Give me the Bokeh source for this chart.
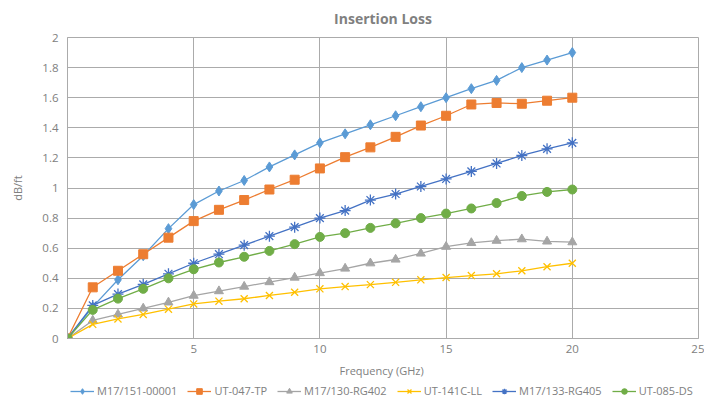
from bokeh.plotting import figure
from bokeh.models import Legend, FixedTicker, Range1d, Title
from bokeh.layouts import column
from bokeh.embed import file_html
from bokeh.resources import INLINE

freq = list(range(0, 21))

m17_151 = [0, 0.21, 0.39, 0.55, 0.73, 0.89, 0.98, 1.05, 1.14, 1.22, 1.30, 1.36, 1.42, 1.48, 1.54, 1.60, 1.66, 1.715, 1.80, 1.85, 1.90]
ut_047 = [0, 0.34, 0.45, 0.56, 0.67, 0.78, 0.855, 0.92, 0.99, 1.055, 1.13, 1.205, 1.27, 1.34, 1.415, 1.48, 1.555, 1.565, 1.56, 1.58, 1.60]
m17_130 = [0, 0.12, 0.16, 0.20, 0.24, 0.285, 0.315, 0.345, 0.375, 0.405, 0.435, 0.465, 0.50, 0.525, 0.565, 0.61, 0.635, 0.65, 0.66, 0.645, 0.64]
ut_141 = [0, 0.094, 0.13, 0.16, 0.195, 0.23, 0.248, 0.264, 0.286, 0.307, 0.33, 0.345, 0.358, 0.373, 0.39, 0.405, 0.418, 0.43, 0.45, 0.477, 0.50]
m17_133 = [0, 0.22, 0.295, 0.36, 0.43, 0.50, 0.56, 0.62, 0.68, 0.74, 0.80, 0.85, 0.92, 0.96, 1.01, 1.06, 1.11, 1.163, 1.216, 1.26, 1.30]
ut_085 = [0, 0.19, 0.265, 0.33, 0.40, 0.46, 0.505, 0.543, 0.582, 0.627, 0.675, 0.70, 0.735, 0.765, 0.80, 0.83, 0.864, 0.90, 0.947, 0.974, 0.99]

series_names = ["M17/151-00001", "UT-047-TP", "M17/130-RG402", "UT-141C-LL", "M17/133-RG405", "UT-085-DS"]
series_values = [m17_151, ut_047, m17_130, ut_141, m17_133, ut_085]
colors = ["#5B9BD5", "#ED7D31", "#A5A5A5", "#FFC000", "#4472C4", "#70AD47"]
markers = ["diamond", "square", "triangle", "x", "asterisk", "circle"]
sizes = [10, 9, 9, 10, 11, 9]

x_ticks = [0, 5, 10, 15, 20, 25]
x_tick_labels = ["", "5", "10", "15", "20", "25"]
y_ticks = [0, 0.2, 0.4, 0.6, 0.8, 1.0, 1.2, 1.4, 1.6, 1.8, 2.0]
y_tick_labels = ["0", "0.2", "0.4", "0.6", "0.8", "1", "1.2", "1.4", "1.6", "1.8", "2"]

FONT = "Open Sans"
TXT = "#808080"
GRID = "#ABABAB"

p = figure(width=704, height=380, output_backend="svg", toolbar_location=None,
           x_range=Range1d(0, 25), y_range=Range1d(0, 2),
           min_border_left=67, min_border_right=6, min_border_top=35, min_border_bottom=42)

p.title = Title(text="Insertion Loss", align="center", vertical_align="top", text_font=FONT,
                text_font_size="14px", text_font_style="bold", text_color=TXT, standoff=16)

for ax in (p.xaxis[0], p.yaxis[0]):
    ax.major_tick_in = 0
    ax.major_tick_out = 0
    ax.minor_tick_in = 0
    ax.minor_tick_out = 0
    ax.axis_line_color = GRID
    ax.major_label_text_font = FONT
    ax.major_label_text_font_size = "11.5px"
    ax.major_label_text_color = TXT
    ax.axis_label_text_font = FONT
    ax.axis_label_text_font_size = "11px"
    ax.axis_label_text_font_style = "normal"
    ax.axis_label_text_color = TXT

p.xaxis[0].ticker = FixedTicker(ticks=x_ticks)
p.xaxis[0].major_label_overrides = {t: l for t, l in zip(x_ticks, x_tick_labels)}
p.yaxis[0].ticker = FixedTicker(ticks=y_ticks)
p.yaxis[0].major_label_overrides = {t: l for t, l in zip(y_ticks, y_tick_labels)}
p.xaxis[0].axis_label = "Frequency  (GHz)"
p.yaxis[0].axis_label = "dB/ft"
p.xaxis[0].major_label_standoff = 6
p.xaxis[0].axis_label_standoff = 7
p.yaxis[0].major_label_standoff = 9
p.yaxis[0].axis_label_standoff = 14

p.xgrid.grid_line_color = GRID
p.ygrid.grid_line_color = GRID
p.outline_line_color = GRID
p.background_fill_color = "white"
p.border_fill_color = "white"

# strip below the chart that holds the legend (its data range is kept out of view)
lg = figure(width=704, height=20, output_backend="svg", toolbar_location=None,
            x_range=Range1d(100, 101), y_range=Range1d(100, 101),
            min_border_left=67, min_border_right=0, min_border_top=0, min_border_bottom=0)
lg.axis.visible = False
lg.grid.visible = False
lg.outline_line_color = None
lg.border_fill_color = "white"

items = []
for name, vals, c, m, s in zip(series_names, series_values, colors, markers, sizes):
    lw = 1.3 if m in ("x", "asterisk") else 1
    p.line(freq, vals, line_color=c, line_width=1.3)
    p.scatter(freq, vals, marker=m, size=s, fill_color=c, line_color=c, line_width=lw)
    l1 = lg.line(freq, vals, line_color=c, line_width=1.3)
    l2 = lg.scatter(freq, vals, marker=m, size=max(s - 4, 5), fill_color=c, line_color=c, line_width=lw)
    items.append((name, [l1, l2]))

legend = Legend(items=items, orientation="horizontal", location=(3, 2),
                label_text_font=FONT, label_text_font_size="11px", label_text_color=TXT,
                glyph_width=24, glyph_height=14, label_standoff=3, spacing=10,
                padding=0, margin=0, border_line_color=None, background_fill_alpha=0)
lg.add_layout(legend)

layout = column(p, lg, spacing=0)
open("out.html", "w").write(file_html(layout, INLINE))
